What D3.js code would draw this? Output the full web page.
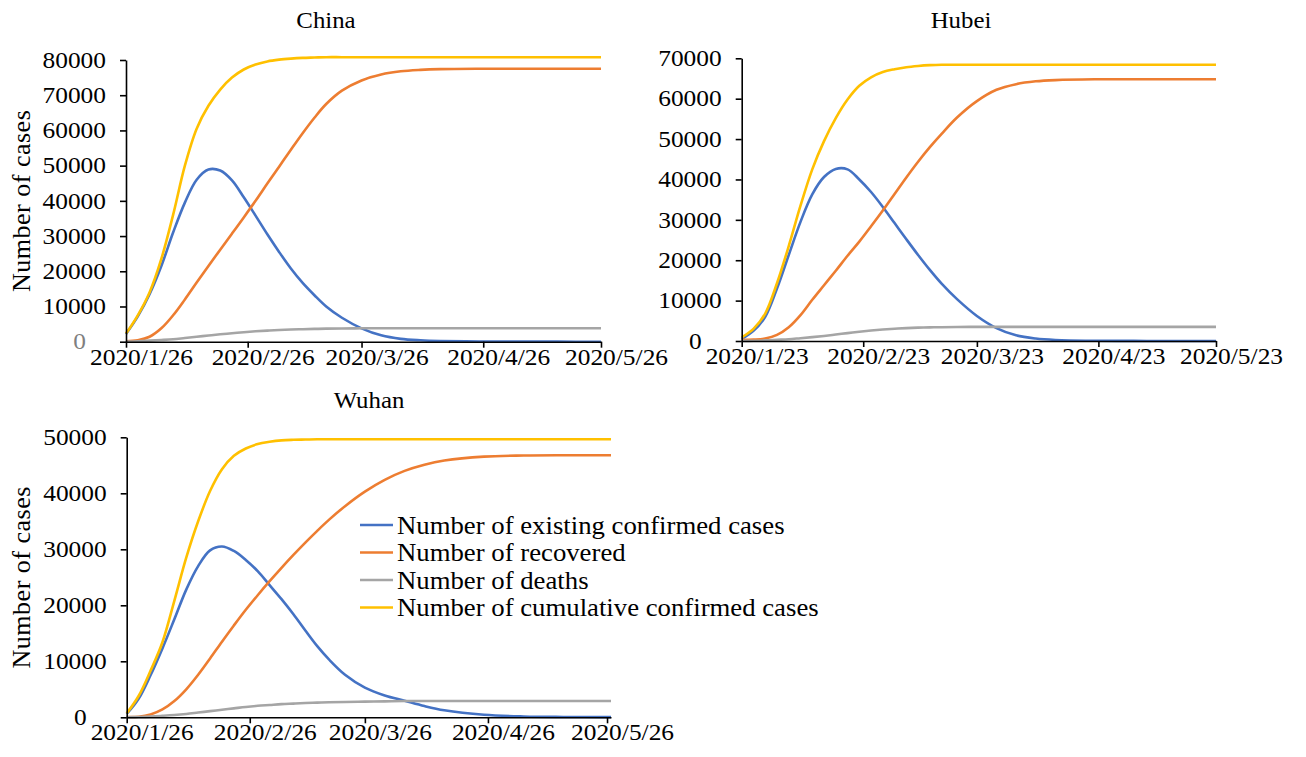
<!DOCTYPE html>
<html>
<head>
<meta charset="utf-8">
<script src="https://cdn.jsdelivr.net/npm/d3@7"></script>
<style>
  body { margin: 0; background: #fff; }
  svg text { font-family: "Times New Roman", "Liberation Serif", serif; fill: #000; }
</style>
</head>
<body>
<svg id="chart" width="1306" height="757"></svg>
<script>
// ---- China (from 2020/1/26) ----
const chinaDates = ["2020/1/26","2020/1/29","2020/2/1","2020/2/4","2020/2/7","2020/2/10","2020/2/13","2020/2/16","2020/2/19","2020/2/22","2020/2/25","2020/2/28","2020/3/2","2020/3/5","2020/3/8","2020/3/11","2020/3/14","2020/3/17","2020/3/21","2020/3/26","2020/3/31","2020/4/5","2020/4/10","2020/4/15","2020/4/25","2020/5/5","2020/5/15","2020/5/26"];
const chinaExisting   = [2200,7200,13500,21500,31000,39500,46000,48900,48600,45800,41000,35800,30500,25500,20800,16700,13200,10000,6800,3800,1800,800,400,200,50,20,10,0];
const chinaRecovered  = [100,400,1400,3800,7500,12000,16800,21500,26100,30700,35300,40000,44900,49700,54500,59200,63600,67500,71300,74200,75900,76800,77200,77400,77500,77500,77500,77500];
const chinaDeaths     = [50,120,300,480,700,1050,1400,1750,2100,2400,2700,2950,3150,3320,3450,3550,3630,3700,3750,3800,3800,3800,3800,3800,3800,3800,3800,3800];
const chinaCumulative = [2300,7500,14000,23500,36000,50000,60500,67000,71600,75000,77300,78700,79600,80100,80400,80600,80700,80800,80800,80800,80800,80800,80800,80800,80800,80800,80800,80800];
const chinaTicks = ["2020/1/26","2020/2/26","2020/3/26","2020/4/26","2020/5/26"];

// ---- Hubei (from 2020/1/23) ----
const hubeiDates = ["2020/1/23","2020/1/26","2020/1/29","2020/2/1","2020/2/4","2020/2/7","2020/2/10","2020/2/13","2020/2/16","2020/2/19","2020/2/22","2020/2/25","2020/2/28","2020/3/2","2020/3/5","2020/3/8","2020/3/11","2020/3/14","2020/3/18","2020/3/23","2020/3/28","2020/4/2","2020/4/7","2020/4/12","2020/4/22","2020/5/2","2020/5/12","2020/5/23"];
const hubeiExisting   = [500,2500,6000,13000,21300,29500,36300,40600,42600,42500,40000,36900,33200,29200,25200,21300,17600,14200,10300,6200,3200,1400,600,250,50,20,10,0];
const hubeiRecovered  = [300,350,600,1500,3400,6400,10200,13800,17400,21100,24600,28400,32300,36400,40500,44400,48000,51300,55400,59400,62200,63600,64300,64600,64800,64800,64800,64800];
const hubeiDeaths     = [20,60,150,300,450,700,950,1250,1600,1950,2300,2600,2850,3050,3200,3300,3380,3420,3460,3500,3500,3500,3500,3500,3500,3500,3500,3500];
const hubeiCumulative = [900,3000,6800,14300,23500,33500,42500,49500,55200,59800,63200,65300,66600,67300,67800,68100,68300,68400,68400,68400,68400,68400,68400,68400,68400,68400,68400,68400];
const hubeiTicks = ["2020/1/23","2020/2/23","2020/3/23","2020/4/23","2020/5/23"];

// ---- Wuhan (from 2020/1/26) ----
const wuhanDates = ["2020/1/26","2020/1/29","2020/2/1","2020/2/4","2020/2/7","2020/2/10","2020/2/13","2020/2/16","2020/2/19","2020/2/22","2020/2/25","2020/2/28","2020/3/2","2020/3/5","2020/3/8","2020/3/11","2020/3/14","2020/3/17","2020/3/21","2020/3/26","2020/3/31","2020/4/5","2020/4/10","2020/4/15","2020/4/25","2020/5/5","2020/5/15","2020/5/27"];
const wuhanExisting   = [600,3300,7500,12300,17500,22800,27000,29800,30500,29700,28100,26100,23600,21100,18400,15500,12700,10300,7600,5300,3900,2950,2000,1250,450,150,60,30];
const wuhanRecovered  = [50,100,500,1400,2900,5000,7600,10500,13500,16400,19200,21800,24300,26700,29000,31200,33300,35300,37700,40300,42400,44000,45100,45850,46550,46750,46800,46800];
const wuhanDeaths     = [20,50,120,250,400,600,850,1100,1350,1600,1850,2050,2200,2350,2450,2550,2620,2680,2740,2800,2850,2900,2900,2900,2900,2900,2900,2900];
const wuhanCumulative = [700,3800,8300,13400,20800,28500,35000,40400,44300,46700,48000,48800,49200,49450,49550,49600,49650,49650,49650,49650,49650,49650,49650,49650,49650,49650,49650,49650];
const wuhanTicks = ["2020/1/26","2020/2/26","2020/3/26","2020/4/26","2020/5/26"];

const seriesNames = ["Number of existing confirmed cases","Number of recovered","Number of deaths","Number of cumulative confirmed cases"];
const seriesColors = ["#4472C4","#ED7D31","#A5A5A5","#FFC000"];

const parseDate = d3.timeParse("%Y/%m/%d");
const svg = d3.select("#chart");

// text in this figure is set slightly wide
const STRETCH = 1.13;

const panels = [
  { title: "China", dates: chinaDates, series: [chinaExisting, chinaRecovered, chinaDeaths, chinaCumulative],
    ticks: chinaTicks, start: "2020/1/26", end: "2020/5/26", yMax: 80000,
    left: 126, right: 601, top: 60, bottom: 341.7, titleX: 326, titleY: 28, yTitle: true, zeroColor: "#7f7f7f" },
  { title: "Hubei", dates: hubeiDates, series: [hubeiExisting, hubeiRecovered, hubeiDeaths, hubeiCumulative],
    ticks: hubeiTicks, start: "2020/1/23", end: "2020/5/23", yMax: 70000,
    left: 741.7, right: 1216, top: 58.3, bottom: 341, titleX: 961, titleY: 28, yTitle: false, zeroColor: "#000" },
  { title: "Wuhan", dates: wuhanDates, series: [wuhanExisting, wuhanRecovered, wuhanDeaths, wuhanCumulative],
    ticks: wuhanTicks, start: "2020/1/26", end: "2020/5/27", yMax: 50000,
    left: 126.7, right: 611, top: 437.3, bottom: 717.3, titleX: 369, titleY: 408, yTitle: true, zeroColor: "#000" }
];

const tickFont = 22.5;

panels.forEach(p => {
  const x = d3.scaleTime().domain([parseDate(p.start), parseDate(p.end)]).range([p.left, p.right]);
  const y = d3.scaleLinear().domain([0, p.yMax]).range([p.bottom, p.top]);
  const g = svg.append("g");

  // series lines
  const line = d3.line()
    .x(d => x(d[0]))
    .y(d => y(d[1]))
    .curve(d3.curveCatmullRom.alpha(0.5));
  p.series.forEach((vals, i) => {
    const pts = p.dates.map((dt, k) => [parseDate(dt), vals[k]]);
    g.append("path")
      .datum(pts)
      .attr("d", line)
      .attr("fill", "none")
      .attr("stroke", seriesColors[i])
      .attr("stroke-width", 2.6)
      .attr("stroke-linejoin", "round")
      .attr("stroke-linecap", "butt");
  });

  // y axis
  const yAxis = d3.axisLeft(y)
    .tickValues(d3.range(0, p.yMax + 1, 10000))
    .tickFormat(d3.format("d"))
    .tickSize(6).tickSizeOuter(0);
  const ya = g.append("g").attr("transform", `translate(${p.left},0)`).call(yAxis);
  ya.select(".domain").attr("stroke", "#000").attr("stroke-width", 1.6);
  ya.selectAll(".tick line").attr("stroke", "#000").attr("stroke-width", 1.6);
  ya.selectAll(".tick text")
    .attr("font-size", tickFont)
    .attr("font-family", null)
    .attr("x", d => (d === 0 ? -40 : -20) / STRETCH)
    .attr("transform", `scale(${STRETCH},1)`)
    .style("fill", d => d === 0 ? p.zeroColor : "#000");

  // x axis
  const xAxis = d3.axisBottom(x)
    .tickValues(p.ticks.map(parseDate))
    .tickFormat((d, i) => p.ticks[i])
    .tickSize(6).tickSizeOuter(0);
  const xa = g.append("g").attr("transform", `translate(0,${p.bottom})`).call(xAxis);
  xa.select(".domain").attr("stroke", "#000").attr("stroke-width", 1.6);
  xa.selectAll(".tick line").attr("stroke", "#000").attr("stroke-width", 1.6);
  xa.selectAll(".tick text")
    .attr("font-size", tickFont)
    .attr("font-family", null)
    .attr("x", 15 / STRETCH)
    .attr("y", 23)
    .attr("dy", 0)
    .attr("transform", `scale(${STRETCH},1)`);

  // panel title
  g.append("text")
    .attr("transform", `translate(${p.titleX},${p.titleY}) scale(1.08,1)`)
    .attr("text-anchor", "middle")
    .attr("font-size", 23)
    .text(p.title);

  // y axis title
  if (p.yTitle) {
    g.append("text")
      .attr("transform", `translate(30,${(p.top + p.bottom) / 2}) rotate(-90)`)
      .attr("text-anchor", "middle")
      .attr("font-size", 26)
      .attr("letter-spacing", 0.5)
      .text("Number of cases");
  }
});

// legend
const legend = svg.append("g").attr("transform", "translate(360,525)");
seriesNames.forEach((name, i) => {
  const row = legend.append("g").attr("transform", `translate(0,${i * 27.5})`);
  row.append("line")
    .attr("x1", 0).attr("x2", 33).attr("y1", 0).attr("y2", 0)
    .attr("stroke", seriesColors[i]).attr("stroke-width", 2.6);
  row.append("text")
    .attr("transform", "translate(37,0) scale(1.07,1)")
    .attr("dy", "0.34em")
    .attr("font-size", 25)
    .text(name);
});
</script>
</body>
</html>
